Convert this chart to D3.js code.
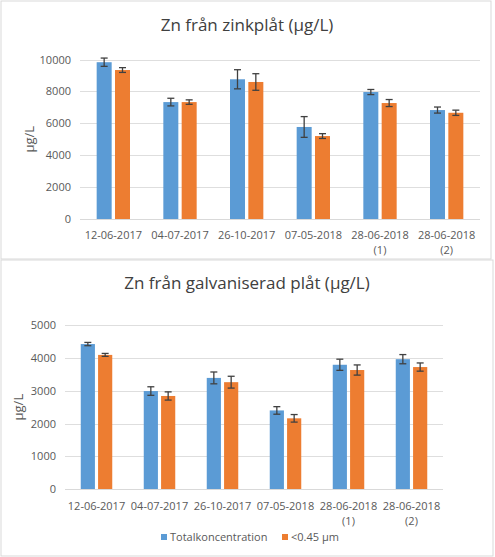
<!DOCTYPE html>
<html lang="sv">
<head>
<meta charset="UTF-8">
<title>Zn</title>
<script src="https://d3js.org/d3.v7.min.js"></script>
<style>
  body { margin: 0; background: #fff; }
  text { font-family: "Open Sans", sans-serif; }
</style>
</head>
<body>
<svg id="chart" width="495" height="557"></svg>
<script>
  // categories (second line of label after the newline)
  const categories = ["12-06-2017", "04-07-2017", "26-10-2017", "07-05-2018", "28-06-2018\n(1)", "28-06-2018\n(2)"];
  const seriesNames = ["Totalkoncentration", "<0.45 µm"];
  const colors = ["#5b9bd5", "#ed7d31"];

  // Zn från zinkplåt
  const zinkTotal = [9830, 7330, 8760, 5770, 7960, 6830];
  const zinkTotalErr = [260, 240, 600, 650, 160, 190];
  const zinkFilt = [9340, 7330, 8590, 5200, 7270, 6660];
  const zinkFiltErr = [150, 140, 520, 150, 220, 165];
  const zinkTicks = [0, 2000, 4000, 6000, 8000, 10000];

  // Zn från galvaniserad plåt
  const galvTotal = [4420, 2990, 3390, 2400, 3790, 3960];
  const galvTotalErr = [50, 130, 180, 115, 170, 140];
  const galvFilt = [4090, 2840, 3260, 2160, 3630, 3720];
  const galvFiltErr = [45, 125, 180, 115, 155, 125];
  const galvTicks = [0, 1000, 2000, 3000, 4000, 5000];

  const svg = d3.select("#chart");

  // panel frames
  svg.append("rect").attr("x", 1).attr("y", 1).attr("width", 490).attr("height", 258)
    .attr("fill", "none").attr("stroke", "#d9d9d9");
  svg.append("rect").attr("x", 1).attr("y", 260).attr("width", 492).attr("height", 296)
    .attr("fill", "none").attr("stroke", "#d9d9d9");

  function drawPanel(p) {
    const g = svg.append("g");

    const x = d3.scaleBand().domain(categories).range([p.left, p.right]);
    const y = d3.scaleLinear().domain([0, p.max]).range([p.bottom, p.top]);

    // title
    g.append("text")
      .attr("x", 247).attr("y", p.titleY)
      .attr("text-anchor", "middle")
      .attr("font-size", 17).attr("fill", "#404040")
      .text(p.title);

    // gridlines
    g.selectAll(".grid").data(p.ticks).enter().append("line")
      .attr("x1", p.left).attr("x2", p.right)
      .attr("y1", d => Math.round(y(d)) + 0.5).attr("y2", d => Math.round(y(d)) + 0.5)
      .attr("stroke", "#dedede").attr("stroke-width", 1);

    // y axis labels
    const yAxis = g.append("g")
      .attr("transform", "translate(" + (p.left - 9) + ",0)")
      .call(d3.axisLeft(y).tickValues(p.ticks).tickSize(0).tickPadding(0).tickFormat(d3.format("d")));
    yAxis.select(".domain").remove();
    yAxis.selectAll("text").attr("font-size", 11).attr("fill", "#595959")
      .style("font-family", "Open Sans");

    // y axis title
    g.append("text")
      .attr("transform", "translate(" + p.yLabelX + "," + ((p.top + p.bottom) / 2) + ") rotate(-90)")
      .attr("text-anchor", "middle").attr("dy", "0.35em")
      .attr("font-size", 13).attr("fill", "#595959")
      .text("µg/L");

    // bars
    const bw = x.bandwidth() * 0.225;
    const gap = x.bandwidth() * 0.05;
    const offsets = [-gap / 2 - bw, gap / 2];
    [p.s1, p.s2].forEach((vals, si) => {
      const errs = [p.e1, p.e2][si];
      categories.forEach((c, i) => {
        const cx = x(c) + x.bandwidth() / 2 + offsets[si];
        g.append("rect")
          .attr("x", cx).attr("y", y(vals[i]))
          .attr("width", bw).attr("height", y(0) - y(vals[i]))
          .attr("fill", colors[si]);
        const mx = cx + bw / 2;
        const hi = y(vals[i] + errs[i]), lo = y(vals[i] - errs[i]);
        g.append("line").attr("x1", mx).attr("x2", mx).attr("y1", hi).attr("y2", lo)
          .attr("stroke", "#404040").attr("stroke-width", 1.3);
        [hi, lo].forEach(yy => {
          g.append("line").attr("x1", mx - 3.5).attr("x2", mx + 3.5).attr("y1", yy).attr("y2", yy)
            .attr("stroke", "#404040").attr("stroke-width", 1.3);
        });
      });
    });

    // x axis line
    g.append("line")
      .attr("x1", p.left).attr("x2", p.right)
      .attr("y1", Math.round(y(0)) + 0.5).attr("y2", Math.round(y(0)) + 0.5)
      .attr("stroke", "#d9d9d9");

    // x labels
    const xAxis = g.append("g")
      .attr("transform", "translate(0," + p.bottom + ")")
      .call(d3.axisBottom(x).tickSize(0).tickFormat(""));
    xAxis.select(".domain").remove();
    xAxis.selectAll(".tick").each(function (d) {
      const t = d3.select(this).append("text")
        .attr("text-anchor", "middle").attr("font-size", 11).attr("fill", "#595959");
      d.split("\n").forEach((line, li) => {
        t.append("tspan").attr("x", 0).attr("y", p.xLabelDy + li * 15).text(line);
      });
    });
    return g;
  }

  drawPanel({
    title: "Zn från zinkplåt (µg/L)", titleY: 31,
    left: 80, right: 480, top: 59.5, bottom: 219, max: 10000, ticks: zinkTicks,
    s1: zinkTotal, e1: zinkTotalErr, s2: zinkFilt, e2: zinkFiltErr,
    yLabelX: 29, xLabelDy: 20
  });

  drawPanel({
    title: "Zn från galvaniserad plåt (µg/L)", titleY: 289,
    left: 65, right: 443, top: 325, bottom: 489.3, max: 5000, ticks: galvTicks,
    s1: galvTotal, e1: galvTotalErr, s2: galvFilt, e2: galvFiltErr,
    yLabelX: 18, xLabelDy: 20.5
  });

  // legend
  const legend = svg.append("g");
  const legendX = [161, 282];
  seriesNames.forEach((name, i) => {
    legend.append("rect").attr("x", legendX[i]).attr("y", 534).attr("width", 6).attr("height", 6)
      .attr("fill", colors[i]);
    legend.append("text").attr("x", legendX[i] + 9).attr("y", 537).attr("dy", "0.35em")
      .attr("font-size", 11).attr("fill", "#595959").text(name);
  });
</script>
</body>
</html>
